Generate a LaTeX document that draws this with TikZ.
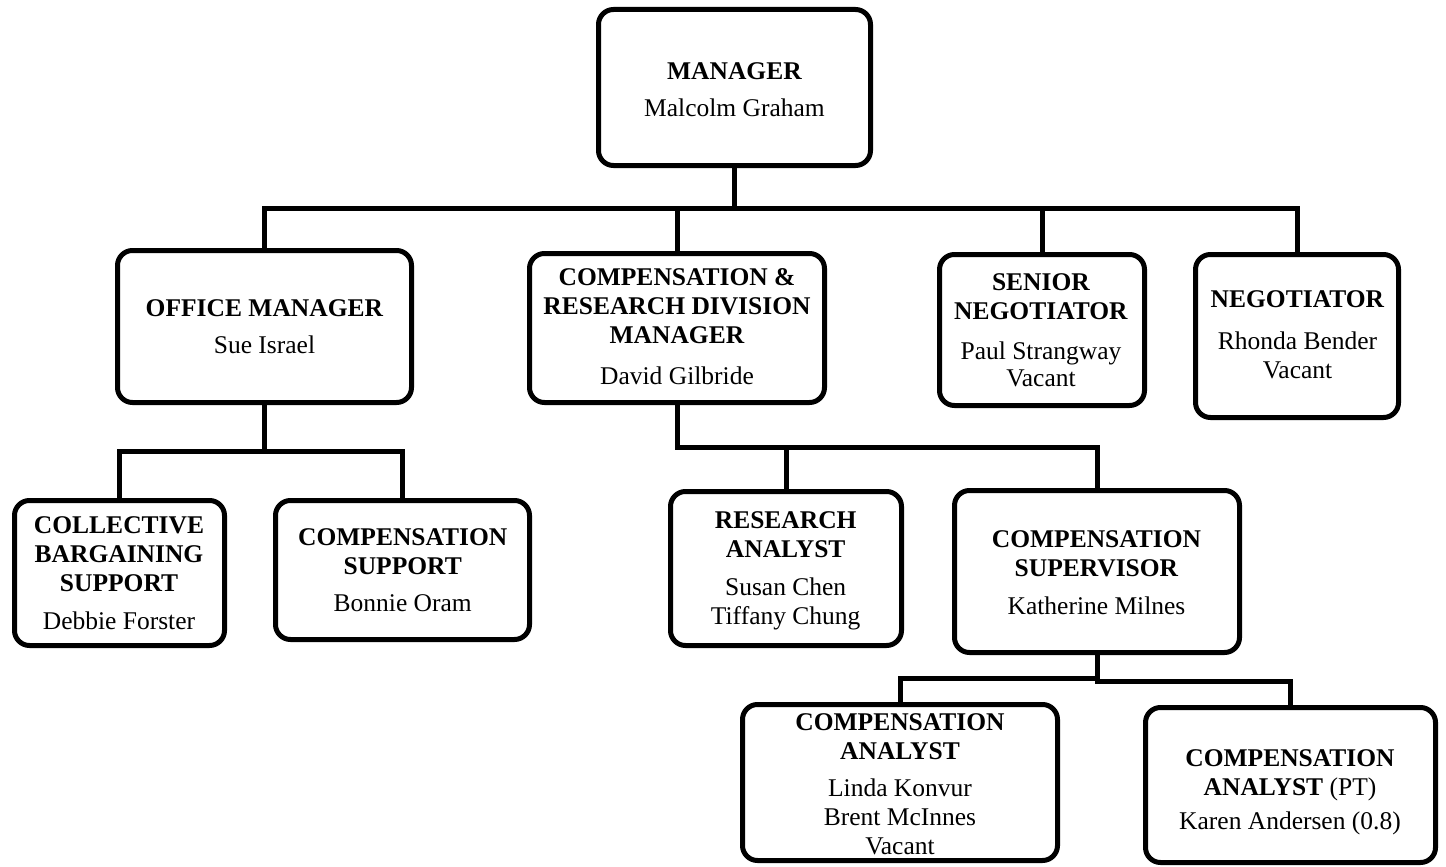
\documentclass[tikz,border=0pt]{standalone}
\usepackage{fontspec}
\setmainfont{Liberation Serif}
\tikzset{
  orgbox/.style={draw=black, line width=5pt, rounded corners=15pt, fill=white, inner sep=0pt},
  conn/.style={draw=black, line width=5pt},
  lbl/.style={align=center, font=\fontsize{25.5}{29}\selectfont, inner sep=0pt, anchor=base, text=black},
}
\begin{document}
\begin{tikzpicture}[x=1pt, y=-1pt]
\useasboundingbox (0,0) rectangle (1446,867);
\fill[white] (0,0) rectangle (1446,867);

% bus levels
\coordinate (bus1) at (0,208.5);
\coordinate (bus2) at (0,451);
\coordinate (bus3) at (0,447);
\coordinate (bus4l) at (0,678);
\coordinate (bus4r) at (0,681);

% boxes
\node[orgbox, minimum width=272pt, minimum height=156pt] (mgr) at (734.5,87.5) {};
\node[orgbox, minimum width=294pt, minimum height=152pt] (office) at (264.5,326.5) {};
\node[orgbox, minimum width=295pt, minimum height=149pt] (div) at (677,328) {};
\node[orgbox, minimum width=205pt, minimum height=151pt] (senior) at (1042,330) {};
\node[orgbox, minimum width=203pt, minimum height=163pt] (neg) at (1297,336) {};
\node[orgbox, minimum width=210pt, minimum height=145pt] (coll) at (119.5,573) {};
\node[orgbox, minimum width=254pt, minimum height=139pt] (cs) at (402.5,570) {};
\node[orgbox, minimum width=231pt, minimum height=154pt] (res) at (786,568.5) {};
\node[orgbox, minimum width=285pt, minimum height=162pt] (sup) at (1097,571.5) {};
\node[orgbox, minimum width=315pt, minimum height=156pt] (an) at (900,782.5) {};
\node[orgbox, minimum width=290pt, minimum height=155pt] (pt) at (1290.5,785) {};

% connectors
\draw[conn] (mgr.south) -- (mgr.south |- bus1);
\draw[conn] (office.north) |- (neg.north |- bus1) -- (neg.north);
\draw[conn] (div.north) -- (div.north |- bus1);
\draw[conn] (senior.north) -- (senior.north |- bus1);
\draw[conn] (office.south) -- (office.south |- bus2);
\draw[conn] (coll.north) |- (cs.north |- bus2) -- (cs.north);
\draw[conn] (div.south) |- (sup.north |- bus3) -- (sup.north);
\draw[conn] (res.north) -- (res.north |- bus3);
\draw[conn] (an.north) |- (sup.south |- bus4l);
\draw[conn] (sup.south) -- (sup.south |- bus4r) -| (pt.north);

% texts (anchored at the baseline of the last line)
\node[lbl] (mgr-t) at (734.5,116) {\textbf{MANAGER}\\[7pt]Malcolm Graham};
\node[lbl] (office-t) at (264.5,353) {\textbf{OFFICE MANAGER}\\[8pt]Sue Israel};
\node[lbl] (div-t) at (677,384.7) {\textbf{COMPENSATION \&}\\\textbf{RESEARCH DIVISION}\\\textbf{MANAGER}\\[12pt]David Gilbride};
\node[lbl] (senior-t) at (1041,386.3) {\textbf{SENIOR}\\\textbf{NEGOTIATOR}\\[11pt]Paul Strangway\\[-2pt]Vacant};
\node[lbl] (neg-t) at (1297.5,378) {\textbf{NEGOTIATOR}\\[13pt]Rhonda Bender\\Vacant};
\node[lbl] (coll-t) at (119,629.7) {\textbf{COLLECTIVE}\\\textbf{BARGAINING}\\\textbf{SUPPORT}\\[9pt]Debbie Forster};
\node[lbl] (cs-t) at (402.7,611.3) {\textbf{COMPENSATION}\\\textbf{SUPPORT}\\[8pt]Bonnie Oram};
\node[lbl] (res-t) at (785.7,624.7) {\textbf{RESEARCH}\\\textbf{ANALYST}\\[9pt]Susan Chen\\Tiffany Chung};
\node[lbl] (sup-t) at (1096.5,614.7) {\textbf{COMPENSATION}\\\textbf{SUPERVISOR}\\[9pt]Katherine Milnes};
\node[lbl] (an-t) at (900,854.7) {\textbf{COMPENSATION}\\\textbf{ANALYST}\\[8pt]Linda Konvur\\Brent McInnes\\Vacant};
\node[lbl] (pt-t) at (1290,829.7) {\textbf{COMPENSATION}\\\textbf{ANALYST} (PT)\\[5pt]Karen Andersen (0.8)};
\end{tikzpicture}
\end{document}
